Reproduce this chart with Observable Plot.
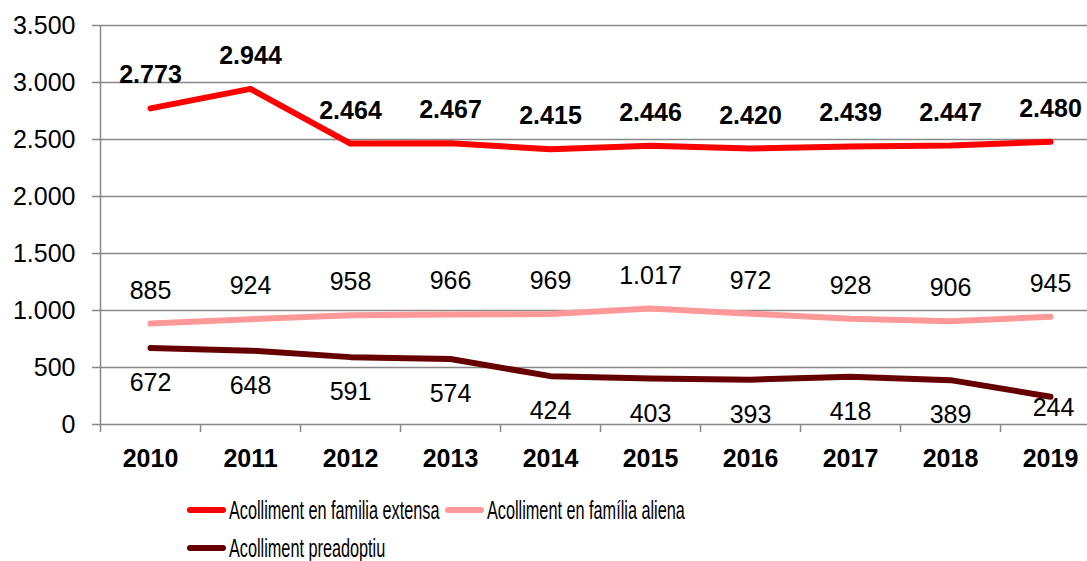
<!DOCTYPE html>
<html>
<head>
<meta charset="utf-8">
<script src="https://cdn.jsdelivr.net/npm/d3@7"></script>
<script src="https://cdn.jsdelivr.net/npm/@observablehq/plot@0.6"></script>
<style>
  html, body { margin: 0; padding: 0; background: #fff; }
  body { width: 1087px; height: 561px; overflow: hidden; font-family: "Liberation Sans", Arial, sans-serif; }
  #wrap { position: relative; width: 1087px; height: 561px; }
  #chart svg { display: block; }
  .leg { position: absolute; display: flex; align-items: center; height: 30px; }
  .leg .sw { width: 39px; height: 6px; border-radius: 3px; margin-right: 3px; }
  .leg .tx { font-size: 25px; line-height: 26px; color: #000; transform: scaleX(0.65); transform-origin: left center; white-space: nowrap; }
</style>
</head>
<body>
<div id="wrap">
  <div id="chart"></div>
  <div id="legend"></div>
</div>
<script>
const years = [2010, 2011, 2012, 2013, 2014, 2015, 2016, 2017, 2018, 2019];
const seriesNames = ["Acolliment en familia extensa", "Acolliment en família aliena", "Acolliment preadoptiu"];
const seriesColors = ["#ff0000", "#ff9999", "#660000"];
const extensa = [2773, 2944, 2464, 2467, 2415, 2446, 2420, 2439, 2447, 2480];
const aliena = [885, 924, 958, 966, 969, 1017, 972, 928, 906, 945];
const preadoptiu = [672, 648, 591, 574, 424, 403, 393, 418, 389, 244];
const yTicks = [0, 500, 1000, 1500, 2000, 2500, 3000, 3500];

const fmt = d3.formatLocale({decimal: ",", thousands: ".", grouping: [3], currency: ["", "€"]}).format(",");

const valuesBySeries = [extensa, aliena, preadoptiu];
const data = [];
seriesNames.forEach((s, i) => years.forEach((yr, j) => data.push({series: s, year: yr, value: valuesBySeries[i][j]})));
const boundaries = [years[0] - 0.5, ...years.map(y => y + 0.5)];

const W = 1087, H = 470;
const FS = 25;
const chart = Plot.plot({
  width: W,
  height: H,
  marginLeft: 100,
  marginRight: 0,
  marginTop: 25,
  marginBottom: 46,
  style: {fontFamily: "'Liberation Sans', Arial, sans-serif", color: "#000", background: "#fff", overflow: "visible"},
  x: {domain: [years[0] - 0.5, years[years.length - 1] + 0.5], range: [100, 1100]},
  y: {domain: [0, 3500]},
  color: {domain: seriesNames, range: seriesColors},
  marks: [
    Plot.ruleY(yTicks, {y: d => d, stroke: "#888888", strokeWidth: 1.5}),
    Plot.ruleX([years[0] - 0.5], {x: d => d, y1: 0, y2: 3500, stroke: "#888888", strokeWidth: 1.5}),
    Plot.axisY({ticks: yTicks, tickSize: 8, tickPadding: 17, tickFormat: fmt, fontSize: FS, stroke: "#888888", strokeWidth: 1.5, color: "#000", label: null}),
    Plot.axisX({ticks: boundaries, tickSize: 8, tickFormat: () => "", stroke: "#888888", strokeWidth: 1.5, label: null}),
    Plot.text(years, {x: d => d, y: 0, text: d => String(d), dy: 34, fontSize: FS, fontWeight: "bold", fill: "#000"}),
    Plot.line(data, {x: "year", y: "value", z: "series", stroke: "series", strokeWidth: 6, strokeLinecap: "round", strokeLinejoin: "round"}),
    Plot.text(data.filter(d => d.series === seriesNames[0]), {x: "year", y: "value", text: d => fmt(d.value), dy: -33, fontSize: FS, fontWeight: "bold", fill: "#000"}),
    Plot.text(data.filter(d => d.series === seriesNames[1]), {x: "year", y: "value", text: d => fmt(d.value), dy: -33, fontSize: FS, fill: "#000"}),
    Plot.text(data.filter(d => d.series === seriesNames[2] && d.value >= 300), {x: "year", y: "value", text: d => fmt(d.value), dy: 35, fontSize: FS, fill: "#000"}),
    Plot.text(data.filter(d => d.series === seriesNames[2] && d.value < 300), {x: "year", y: "value", text: d => fmt(d.value), dy: 11, dx: 3, fontSize: FS, fill: "#000"})
  ]
});
document.getElementById("chart").appendChild(chart);

const legendPos = [[187, 495], [445, 495], [187, 533]];
const legend = document.getElementById("legend");
seriesNames.forEach((s, i) => {
  const item = document.createElement("div");
  item.className = "leg";
  item.style.left = legendPos[i][0] + "px";
  item.style.top = legendPos[i][1] + "px";
  const sw = document.createElement("div");
  sw.className = "sw";
  sw.style.background = seriesColors[i];
  const tx = document.createElement("div");
  tx.className = "tx";
  tx.textContent = s;
  item.appendChild(sw);
  item.appendChild(tx);
  legend.appendChild(item);
});
</script>
</body>
</html>
